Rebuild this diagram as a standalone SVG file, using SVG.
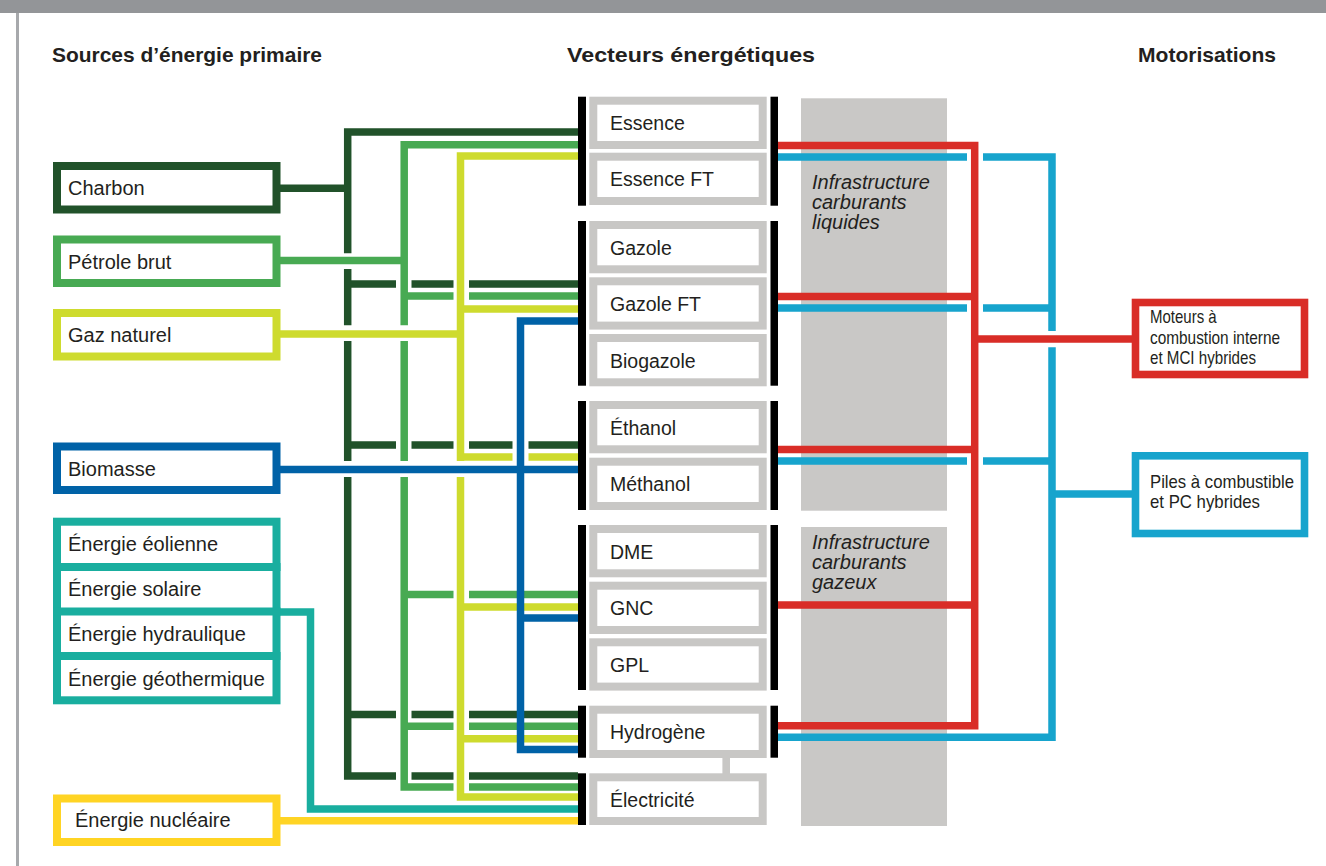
<svg xmlns="http://www.w3.org/2000/svg" width="1326" height="866" viewBox="0 0 1326 866">
<style>
.t{font-family:"Liberation Sans",Arial,sans-serif;fill:#231f20}
.lbl{font-size:20px}
.mid{font-size:19.5px}
.ttl{font-weight:bold;font-size:20.5px}
.inf{font-style:italic;font-size:20px}
.mot{font-size:18.5px}
.c{fill:none;stroke-width:7.5;stroke-linejoin:miter;stroke-linecap:butt}
.src{fill:#fff;stroke-width:8}
.vec{fill:#fff;stroke:#c8c7c5;stroke-width:8}
.bar{fill:#000}
.infra{fill:#c9c8c6}
</style>
<rect x="0" y="0" width="1326" height="13" fill="#939598"/>
<rect x="16" y="13" width="3" height="853" fill="#a7a9ac"/>
<g id="titles">
<text class="t ttl" x="52" y="62" textLength="270" lengthAdjust="spacingAndGlyphs">Sources d’énergie primaire</text>
<text class="t ttl" x="567" y="62" textLength="248" lengthAdjust="spacingAndGlyphs">Vecteurs énergétiques</text>
<text class="t ttl" x="1138" y="62" textLength="138" lengthAdjust="spacingAndGlyphs">Motorisations</text>
</g>
<g id="infra-liquides">
<rect class="infra" x="801" y="98.3" width="146" height="412.4"/>
<text class="t inf" x="812" y="189">Infrastructure</text>
<text class="t inf" x="812" y="209">carburants</text>
<text class="t inf" x="812" y="229">liquides</text>
</g>
<g id="infra-gazeux">
<rect class="infra" x="801" y="527" width="146" height="299"/>
<text class="t inf" x="812" y="549">Infrastructure</text>
<text class="t inf" x="812" y="569">carburants</text>
<text class="t inf" x="812" y="589">gazeux</text>
</g>
<g id="connectors">
<path class="c" stroke="#21522a" d="M280 188.3H347.7M578 132H347.7V253.3M347.7 269V325.3M347.7 341V461M347.7 477V776H396M411.5 776H453.5M469 776H578M347.7 284H396M411.5 284H453.5M469 284H578M347.7 445H396M411.5 445H453.5M469 445H512.5M528.5 445H578M347.7 714.5H396M411.5 714.5H453.5M469 714.5H578"/>
<path class="c" stroke="#48aa53" d="M280 260.5H404.2M578 144.8H404.2V325.3M404.2 341V461M404.2 477V787H453.5M469 787H578M404.2 296H453.5M469 296H578M404.2 594.5H453.5M469 594.5H578M404.2 726.3H453.5M469 726.3H578"/>
<path class="c" stroke="#cedb2e" d="M280 334H460.5M578 156H460.5V461M460.5 477V797H578M460.5 309H578M460.5 457H512.5M528.5 457H578M460.5 607H578M460.5 738.7H578"/>
<path class="c" stroke="#0062a7" d="M280 469.5H578M578 321H520.5V749.5H578M520.5 618H578"/>
<path class="c" stroke="#19ae9f" d="M280 612H310.5V809H578"/>
<path class="c" stroke="#ffd424" d="M280 820.7H578"/>
<path class="c" stroke="#d92d27" d="M778 145.5H974.7V725.7H778M778 296.5H974.7M778 449.5H974.7M778 605H974.7M974.7 339H1132"/>
<path class="c" stroke="#17a4cd" d="M778 157H967M983 157H1052V331M1052 347.3V737.3H778M778 308H967M983 308H1052M778 461H967M983 461H1052M1052 494H1132"/>
</g>
<g id="charbon"><rect class="src" stroke="#21522a" x="57" y="166" width="219.5" height="43.5"/><text class="t lbl" x="68" y="195">Charbon</text></g>
<g id="petrole"><rect class="src" stroke="#48aa53" x="57" y="239.5" width="219.5" height="43.5"/><text class="t lbl" x="68" y="268.5">Pétrole brut</text></g>
<g id="gaz"><rect class="src" stroke="#cedb2e" x="57" y="313" width="219.5" height="43.5"/><text class="t lbl" x="68" y="342">Gaz naturel</text></g>
<g id="biomasse"><rect class="src" stroke="#0062a7" x="57" y="446.5" width="219.5" height="43.5"/><text class="t lbl" x="68" y="475.5">Biomasse</text></g>
<g id="renouvelables">
<rect class="src" stroke="#19ae9f" x="57" y="521.7" width="219.5" height="178.6"/>
<path d="M53 567H280.5M53 611.5H280.5M53 656H280.5" stroke="#19ae9f" stroke-width="8" fill="none"/>
<text class="t lbl" x="68" y="551">Énergie éolienne</text>
<text class="t lbl" x="68" y="596">Énergie solaire</text>
<text class="t lbl" x="68" y="641">Énergie hydraulique</text>
<text class="t lbl" x="68" y="685.5">Énergie géothermique</text>
</g>
<g id="nucleaire"><rect class="src" stroke="#ffd424" x="57" y="798.5" width="219.5" height="43.5"/><text class="t lbl" x="75" y="827">Énergie nucléaire</text></g>
<g id="bars">
<rect class="bar" x="578" y="96.7" width="8" height="109"/><rect class="bar" x="770.5" y="96.7" width="7.5" height="109"/>
<rect class="bar" x="578" y="221" width="8" height="164.7"/><rect class="bar" x="770.5" y="221" width="7.5" height="164.7"/>
<rect class="bar" x="578" y="401" width="8" height="109"/><rect class="bar" x="770.5" y="401" width="7.5" height="109"/>
<rect class="bar" x="578" y="525" width="8" height="165"/><rect class="bar" x="770.5" y="525" width="7.5" height="165"/>
<rect class="bar" x="578" y="705.7" width="8" height="52"/><rect class="bar" x="770.5" y="705.7" width="7.5" height="52"/>
<rect class="bar" x="578" y="773.3" width="8" height="51.7"/>
</g>
<g id="essence"><rect class="vec" x="593.3" y="100.7" width="169.4" height="44.3"/><text class="t mid" x="610" y="130.3">Essence</text></g>
<g id="essence-ft"><rect class="vec" x="593.3" y="156.7" width="169.4" height="44.3"/><text class="t mid" x="610" y="186.3">Essence FT</text></g>
<g id="gazole"><rect class="vec" x="593.3" y="225" width="169.4" height="44.3"/><text class="t mid" x="610" y="254.6">Gazole</text></g>
<g id="gazole-ft"><rect class="vec" x="593.3" y="281.3" width="169.4" height="44.3"/><text class="t mid" x="610" y="310.9">Gazole FT</text></g>
<g id="biogazole"><rect class="vec" x="593.3" y="338" width="169.4" height="44.3"/><text class="t mid" x="610" y="367.6">Biogazole</text></g>
<g id="ethanol"><rect class="vec" x="593.3" y="405" width="169.4" height="44.3"/><text class="t mid" x="610" y="434.6">Éthanol</text></g>
<g id="methanol"><rect class="vec" x="593.3" y="461.7" width="169.4" height="44.3"/><text class="t mid" x="610" y="491.3">Méthanol</text></g>
<g id="dme"><rect class="vec" x="593.3" y="529" width="169.4" height="44.3"/><text class="t mid" x="610" y="558.6">DME</text></g>
<g id="gnc"><rect class="vec" x="593.3" y="585.7" width="169.4" height="44.3"/><text class="t mid" x="610" y="615.3">GNC</text></g>
<g id="gpl"><rect class="vec" x="593.3" y="642.3" width="169.4" height="44.3"/><text class="t mid" x="610" y="671.9">GPL</text></g>
<g id="hydrogene"><rect x="722.4" y="756" width="7.6" height="19" fill="#c8c7c5"/><rect class="vec" x="593.3" y="709.7" width="169.4" height="44.3"/><text class="t mid" x="610" y="739.3">Hydrogène</text></g>
<g id="electricite"><rect class="vec" x="593.3" y="777.3" width="169.4" height="43.7"/><text class="t mid" x="610" y="806.9">Électricité</text></g>
<g id="moteurs">
<rect fill="#fff" stroke="#d92d27" stroke-width="7.6" x="1135.5" y="302.5" width="169" height="72"/>
<text class="t mot" x="1150" y="323.3" textLength="66.7" lengthAdjust="spacingAndGlyphs">Moteurs à</text>
<text class="t mot" x="1150" y="344" textLength="130" lengthAdjust="spacingAndGlyphs">combustion interne</text>
<text class="t mot" x="1150" y="364.3" textLength="106" lengthAdjust="spacingAndGlyphs">et MCI hybrides</text>
</g>
<g id="piles">
<rect fill="#fff" stroke="#17a4cd" stroke-width="7.6" x="1135.5" y="455.8" width="169" height="77.7"/>
<text class="t mot" x="1150" y="487.7" textLength="144" lengthAdjust="spacingAndGlyphs">Piles à combustible</text>
<text class="t mot" x="1150" y="507.7" textLength="110" lengthAdjust="spacingAndGlyphs">et PC hybrides</text>
</g>
</svg>
